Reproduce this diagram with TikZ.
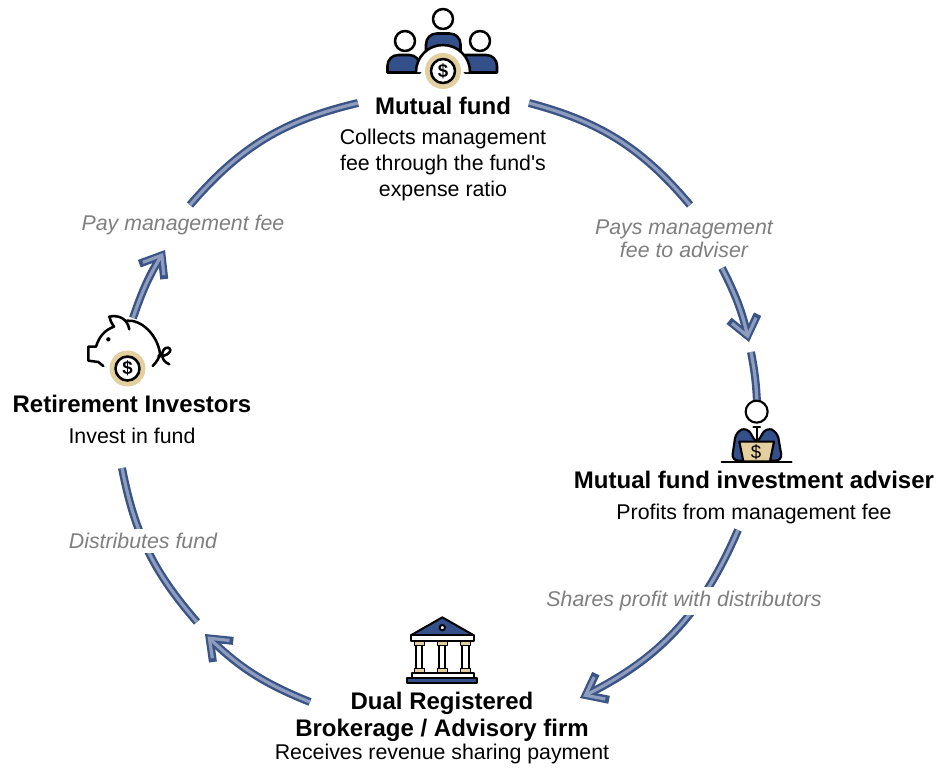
\documentclass[tikz,border=0pt]{standalone}
\usepackage{fontspec}
\setmainfont[Ligatures=TeXOff]{Liberation Sans}
\usetikzlibrary{arrows.meta}

\definecolor{flowdark}{HTML}{3B5486}
\definecolor{flowlight}{HTML}{8E9DBE}
\definecolor{iconblue}{HTML}{34508A}
\definecolor{icontan}{HTML}{E3CFA0}
\definecolor{notegray}{HTML}{7F7F7F}

\tikzset{
    flowline/.style={draw=flowdark,line width=6pt,postaction={draw=flowlight,line width=2.4pt}},
    flowhead/.style={draw=flowdark,line width=6pt,-{Straight Barb[length=14pt,width=22pt,line width=6pt]},
        postaction={draw=flowlight,line width=2.4pt,shorten >=2.6pt,-{Straight Barb[length=12pt,width=18.5pt,line width=2.4pt]}}},
    titlenode/.style={font=\fontsize{18}{20}\selectfont\bfseries,align=center,inner sep=0pt},
    bodynode/.style={font=\fontsize{16}{19.2}\selectfont,align=center,inner sep=0pt},
    notenode/.style={font=\fontsize{16}{17.4}\selectfont\itshape,text=notegray,align=center,fill=white,inner sep=3pt},
    iconline/.style={draw=black,line width=1.9pt,line join=round,line cap=round},
    iconfill/.style={iconline,fill=iconblue},
    iconwhite/.style={iconline,fill=white},
    icontanbox/.style={iconline,fill=icontan}
}

% coin with a dollar sign: name, centre
\newcommand{\dollarcoin}[2]{
    \fill[icontan] (#2) circle (18);
    \draw[iconwhite] (#2) circle (12);
    \node[inner sep=0pt,font=\fontsize{14}{14}\selectfont\bfseries] (#1) at (#2) {\$};
}

\begin{document}
\begin{tikzpicture}[x=0.75pt,y=-0.75pt]
    \useasboundingbox (0,0) rectangle (951,769);

    % points on the ring
    \coordinate (investorsout) at (133,318);
    \coordinate (payfeetip) at (165,250);
    \coordinate (payfeegap) at (190,205);
    \coordinate (fundin) at (358,103);
    \coordinate (fundout) at (529,103);
    \coordinate (paysgap) at (690,205);
    \coordinate (paysresume) at (722,268);
    \coordinate (adviserstub) at (749,342);
    \coordinate (adviserfrom) at (751,352);
    \coordinate (adviserin) at (757,402);
    \coordinate (adviserout) at (738,530);
    \coordinate (firmin) at (580,698);
    \coordinate (firmout) at (310,702);
    \coordinate (disttip) at (205,634);
    \coordinate (distgap) at (197,622);
    \coordinate (investorsin) at (122,468);

    \draw[flowhead] (investorsout) to[bend left=6.5] (payfeetip);
    \draw[flowline] (payfeegap) to[bend left=18] (fundin);
    \draw[flowline] (fundout) to[bend left=17.5] (paysgap);
    \draw[flowhead] (paysresume) to[bend left=7] (adviserstub);
    \draw[flowline] (adviserfrom) to[bend left=4] (adviserin);
    \draw[flowhead] (adviserout) to[bend left=20] (firmin);
    \draw[flowhead] (firmout) to[bend left=11] (disttip);
    \draw[flowline] (distgap) to[bend left=15] (investorsin);

    % mutual fund icon
    \draw[iconwhite] (443,19) circle (10);
    \draw[iconwhite] (405,41) circle (10);
    \draw[iconwhite] (480,41) circle (10);
    \draw[iconfill] (426,62) [rounded corners=8] -- (426,33.5) -- (460.5,33.5) [sharp corners] -- (460.5,62) -- cycle;
    \draw[iconfill] (387.5,72.5) [rounded corners=8] -- (387.5,55) -- (420,55) [sharp corners] -- (420,72.5) -- cycle;
    \draw[iconfill] (465,72.5) -- (465,55) [rounded corners=8] -- (497,55) [sharp corners] -- (497,72.5) -- cycle;
    \draw[iconwhite] (416,72) .. controls (416,57) and (428,45) .. (443,45) .. controls (458,45) and (470,57) .. (470,72);
    \dollarcoin{fundcoin}{443,71}

    % piggy bank icon
    \begin{scope}[shift={(70,230)},scale=0.3333]
        \draw[iconline] (100,408) -- (85,396) -- (55,392) -- (55,350) -- (78,350)
            .. controls (88,318) and (105,300) .. (132,290)
            .. controls (125,280) and (120,270) .. (118,260)
            .. controls (145,254) and (172,265) .. (178,298)
            (170,272) .. controls (215,268) and (262,315) .. (270,370)
            .. controls (268,385) and (258,398) .. (248,408);
        \draw[iconline] (265,378) .. controls (290,382) and (312,360) .. (295,353)
            .. controls (275,350) and (265,390) .. (298,403);
        \fill (115,328) circle (6.5);
    \end{scope}
    \dollarcoin{piggycoin}{127.5,368.5}

    % adviser icon
    \begin{scope}[shift={(690,290)},scale=0.3333,iconline/.append style={line width=1.6pt}]
        \draw[iconfill,rounded corners=5] (125,512) -- (138,425) -- (172,412) -- (200,462) -- (228,412) -- (262,425) -- (277,512) -- cycle;
        \draw[iconwhite] (200,365) circle (33);
        \draw[iconline] (190,412) -- (210,412) (200,412) -- (200,452);
        \draw[icontanbox] (148,455) -- (252,455) -- (240,514) -- (160,514) -- cycle;
        \draw[iconline] (95,515) -- (305,515);
    \end{scope}
    \node[inner sep=0pt,font=\fontsize{14}{14}\selectfont] (advisercoin) at (756,452) {\$};

    % bank icon
    \begin{scope}[shift={(390,610)},scale=0.3333,iconline/.append style={line width=1.5pt}]
        \draw[iconfill] (157,22) -- (250,75) -- (64,75) -- cycle;
        \draw[iconwhite] (157,53) circle (8);
        \draw[iconwhite] (62,75) rectangle (252,92);
        \foreach \colx in {87,156,226}{
            \draw[iconwhite] (\colx-10,100) rectangle (\colx+10,180);
            \draw[icontanbox,line width=0.7pt] (\colx-15,93) rectangle (\colx+15,105);
            \draw[icontanbox,line width=0.7pt] (\colx-15,176) rectangle (\colx+15,188);
        }
        \draw[iconwhite] (65,188) rectangle (252,204);
        \draw[iconfill] (52,204) rectangle (262,218);
    \end{scope}

    % labels
    \node[titlenode] (fundtitle) at (443,106) {Mutual fund};
    \node[bodynode] (fundbody) at (443,165) {Collects management\\fee through the fund's\\expense ratio};
    \node[titlenode] (investorstitle) at (132,404) {Retirement Investors};
    \node[bodynode] (investorsbody) at (132,436) {Invest in fund};
    \node[titlenode] (advisertitle) at (754,480) {Mutual fund investment adviser};
    \node[bodynode] (adviserbody) at (754,514) {Profits from management fee};
    \node[titlenode] (firmtitle) at (442,717) {Dual Registered\\Brokerage / Advisory firm};
    \node[bodynode] (firmbody) at (442,754) {Receives revenue sharing payment};

    \node[notenode] (payfeenote) at (183,225) {Pay management fee};
    \node[notenode] (paysnote) at (684,238.5) {Pays management\\fee to adviser};
    \node[notenode] (sharesnote) at (684,601) {Shares profit with distributors};
    \node[notenode] (distnote) at (143,541) {Distributes fund};
\end{tikzpicture}
\end{document}
